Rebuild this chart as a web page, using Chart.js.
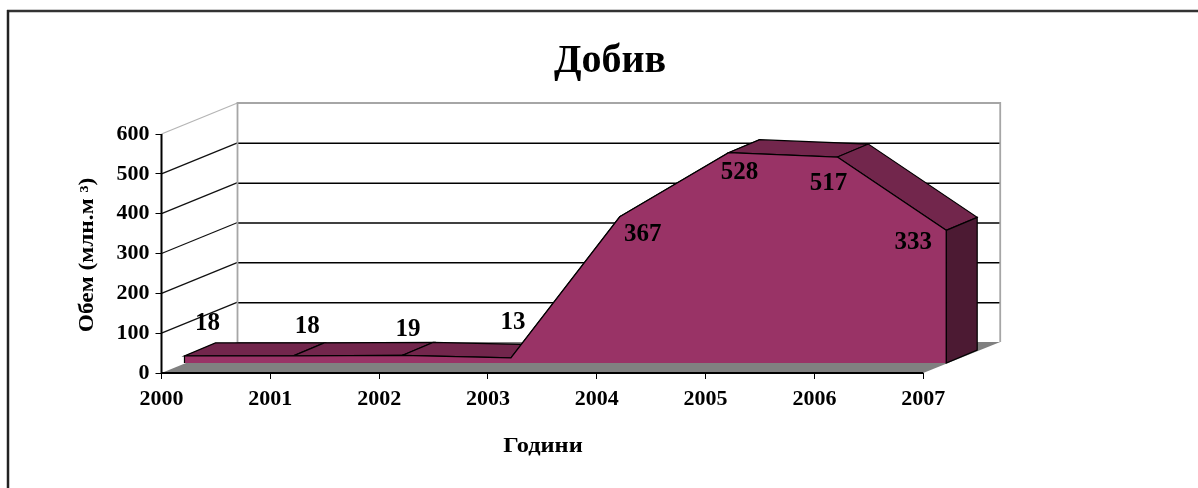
<!DOCTYPE html>
<html lang="bg">
<head>
<meta charset="utf-8">
<title>Добив</title>
<script src="https://cdn.jsdelivr.net/npm/chart.js@4"></script>
<style>
html,body{margin:0;padding:0;background:#fff;overflow:hidden}
canvas{display:block;filter:blur(0.45px)}
</style>
</head>
<body>
<canvas id="c" width="1198" height="488"></canvas>
<script>
const years = [2000, 2001, 2002, 2003, 2004, 2005, 2006, 2007];
const production = [18, 18, 19, 13, 367, 528, 517, 333];
const yTicks = [0, 100, 200, 300, 400, 500, 600];
const titleText = 'Добив';
const xTitleText = 'Години';
const yTitleText = 'Обем (млн.м ³)';

const SERIF = '"Liberation Serif", "Times New Roman", serif';
const FRONT = '#993366', TOP = '#72264c', SIDE = '#4c1a33', FLOOR = '#808080', WALL = '#a6a6a6';
// projection of the oblique 3D box, in chart units / pixels
const WALL_DX = 76, WALL_DY = -31;   // back wall relative to the axis plane
const SERIES_DX = 23, SERIES_DY = -10; // front of the area relative to the axis plane
const DEPTH_DX = 31, DEPTH_DY = -13;  // thickness of the area
const PX_PER_YEAR = 108.9, PX_PER_UNIT = 239 / 600;
// where each value label sits relative to its point
const labelNudge = [[23,-32],[14,-29],[6,-26],[2,-35],[23,18],[11,20],[-9,26],[-33,12]];

const xMaxBox = 2007 + 275 / PX_PER_YEAR;
const yMaxBox = 600 - WALL_DY / PX_PER_UNIT;
const xShift = SERIES_DX / PX_PER_YEAR, yShift = SERIES_DY / PX_PER_UNIT;

function poly(ctx, pts, fill, stroke, lw) {
  ctx.beginPath();
  pts.forEach((p, i) => i ? ctx.lineTo(p[0], p[1]) : ctx.moveTo(p[0], p[1]));
  ctx.closePath();
  if (fill) { ctx.fillStyle = fill; ctx.fill(); }
  if (stroke) { ctx.strokeStyle = stroke; ctx.lineWidth = lw || 1; ctx.stroke(); }
}
function seg(ctx, x1, y1, x2, y2, color, lw) {
  ctx.beginPath(); ctx.moveTo(x1, y1); ctx.lineTo(x2, y2);
  ctx.strokeStyle = color; ctx.lineWidth = lw || 1; ctx.stroke();
}

const box3d = {
  id: 'box3d',
  beforeDraw(chart) {
    const ctx = chart.ctx;
    ctx.save();
    ctx.fillStyle = '#fff'; ctx.fillRect(0, 0, 1198, 488);
    seg(ctx, 7, 11, 1198, 11, '#333', 2.5);
    seg(ctx, 8, 10, 8, 488, '#222', 2.5);
    ctx.restore();
  },
  beforeDatasetsDraw(chart) {
    const {ctx, scales: {x, y, xArea, yArea}} = chart;
    const x0 = x.getPixelForValue(2000), x7 = x.getPixelForValue(2007);
    const y0 = y.getPixelForValue(0), y6 = y.getPixelForValue(600);
    ctx.save();
    // floor
    poly(ctx, [[x0, y0], [x0 + WALL_DX, y0 + WALL_DY], [x7 + WALL_DX + 1, y0 + WALL_DY], [x7, y0]], FLOOR);
    // gridlines on the back wall and side wall
    yTicks.forEach(v => {
      if (v === 0) return;
      const py = y.getPixelForValue(v);
      seg(ctx, x0, py, x0 + WALL_DX, py + WALL_DY, v === 600 ? '#b5b5b5' : '#111', 1.3);
      if (v !== 600) seg(ctx, x0 + WALL_DX, py + WALL_DY + .5, x7 + WALL_DX + 1, py + WALL_DY + .5, '#000', 1.5);
    });
    // wall outline
    ctx.beginPath();
    ctx.moveTo(x0 + WALL_DX, y0 + WALL_DY);
    ctx.lineTo(x0 + WALL_DX, y6 + WALL_DY);
    ctx.lineTo(x7 + WALL_DX + 1, y6 + WALL_DY);
    ctx.lineTo(x7 + WALL_DX + 1, y0 + WALL_DY);
    ctx.strokeStyle = WALL; ctx.lineWidth = 1.8; ctx.stroke();
    // top surface of the area and its right side
    const pts = years.map((yr, i) => [xArea.getPixelForValue(yr), yArea.getPixelForValue(production[i])]);
    for (let i = 0; i < pts.length - 1; i++) {
      const a = pts[i], b = pts[i + 1];
      poly(ctx, [a, b, [b[0] + DEPTH_DX, b[1] + DEPTH_DY], [a[0] + DEPTH_DX, a[1] + DEPTH_DY]], TOP, '#000', 1.2);
    }
    const last = pts[pts.length - 1], base = yArea.getPixelForValue(0);
    poly(ctx, [last, [last[0] + DEPTH_DX, last[1] + DEPTH_DY], [last[0] + DEPTH_DX, base + DEPTH_DY], [last[0], base]], SIDE, '#000', 1.2);
    ctx.restore();
  },
  afterDatasetsDraw(chart) {
    const {ctx, scales: {x, y, xArea, yArea}} = chart;
    const x0 = x.getPixelForValue(2000), x7 = x.getPixelForValue(2007);
    const y0 = y.getPixelForValue(0), y6 = y.getPixelForValue(600);
    const base = yArea.getPixelForValue(0);
    ctx.save();
    // vertical edges of the area front
    const fx = xArea.getPixelForValue(2000), lx = xArea.getPixelForValue(2007);
    seg(ctx, fx, yArea.getPixelForValue(production[0]), fx, base, '#000', 1.2);
    seg(ctx, lx, yArea.getPixelForValue(production[7]), lx, base, '#000', 1.2);
    // axis lines
    seg(ctx, x0, y6, x0, y0 + 1, '#000', 2);
    seg(ctx, x0, y0, x7, y0, '#000', 2);
    // value labels
    ctx.fillStyle = '#000';
    ctx.font = 'bold 25px ' + SERIF;
    ctx.textAlign = 'center';
    ctx.textBaseline = 'middle';
    years.forEach((yr, i) => {
      ctx.fillText(String(production[i]),
        xArea.getPixelForValue(yr) + labelNudge[i][0],
        yArea.getPixelForValue(production[i]) + labelNudge[i][1]);
    });
    // axis titles, widened like the original's bitmap type
    ctx.font = 'bold 20px ' + SERIF;
    ctx.save();
    ctx.translate(543, 447);
    ctx.scale(1.22, 1);
    ctx.fillText(xTitleText, 0, 0);
    ctx.restore();
    ctx.translate(88, 255);
    ctx.rotate(-Math.PI / 2);
    ctx.scale(1.17, 1);
    ctx.fillText(yTitleText, 0, 0);
    ctx.restore();
  }
};

new Chart(document.getElementById('c'), {
  type: 'line',
  data: {
    datasets: [{
      label: titleText,
      data: years.map((yr, i) => ({x: yr, y: production[i]})),
      xAxisID: 'xArea',
      yAxisID: 'yArea',
      fill: 'origin',
      backgroundColor: FRONT,
      borderColor: '#000',
      borderWidth: 1.2,
      tension: 0,
      pointRadius: 0,
      clip: false
    }]
  },
  options: {
    responsive: false,
    animation: false,
    events: [],
    layout: {padding: {left: 22, right: 0, top: 0, bottom: 0}},
    plugins: {
      legend: {display: false},
      tooltip: {enabled: false},
      title: {
        display: true,
        text: titleText,
        color: '#000',
        font: {family: SERIF, size: 40, weight: 'bold', lineHeight: 1.2},
        padding: {top: 38, bottom: 17}
      }
    },
    scales: {
      x: {
        type: 'linear',
        position: 'bottom',
        min: 2000,
        max: xMaxBox,
        afterBuildTicks(s) { s.ticks = years.map(v => ({value: v})); },
        afterFit(s) { s.height = 115; },
        border: {display: false},
        grid: {drawOnChartArea: false, drawTicks: true, tickLength: 6, color: '#000'},
        ticks: {
          autoSkip: false, maxRotation: 0, padding: 7, color: '#000',
          font: {family: SERIF, size: 22, weight: 'bold'},
          callback: v => String(v)
        }
      },
      y: {
        type: 'linear',
        position: 'left',
        min: 0,
        max: yMaxBox,
        afterBuildTicks(s) { s.ticks = yTicks.map(v => ({value: v})); },
        afterFit(s) { s.width = 139.5; },
        border: {display: false},
        grid: {drawOnChartArea: false, drawTicks: true, tickLength: 6, color: '#000'},
        ticks: {
          autoSkip: false, padding: 6, color: '#000',
          font: {family: SERIF, size: 22, weight: 'bold'},
          callback: v => String(v)
        }
      },
      xArea: {type: 'linear', axis: 'x', display: false, min: 2000 - xShift, max: xMaxBox - xShift},
      yArea: {type: 'linear', axis: 'y', display: false, min: yShift, max: yMaxBox + yShift}
    }
  },
  plugins: [box3d]
});
</script>
</body>
</html>
